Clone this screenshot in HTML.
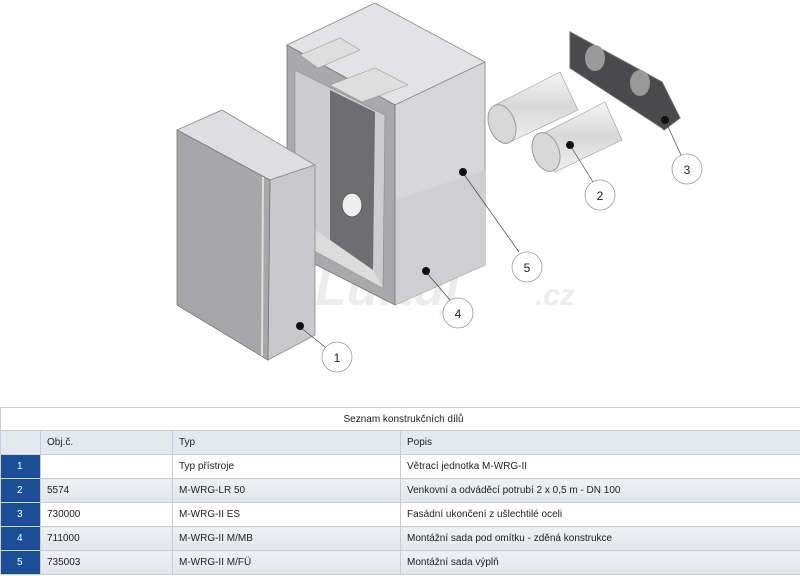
<!DOCTYPE html>
<html><head><meta charset="utf-8"><style>
body{margin:0;width:800px;height:576px;background:#fff;font-family:"Liberation Sans",sans-serif;overflow:hidden;position:relative}
svg{position:absolute;left:0;top:0}
table{position:absolute;left:0;top:407px;width:800px;border-collapse:collapse;table-layout:fixed;font-size:10px;color:#222;font-family:"Liberation Sans Narrow","Liberation Sans",sans-serif}
td{height:23px;border:1px solid #c8ccd4;padding:0 0 0 6px;overflow:hidden;white-space:nowrap}
tr.t td{text-align:center;height:22px;background:#fff}
tr.h td{background:#e4e8ef}
tr.g td{background:linear-gradient(#eef0f3,#e2e5ea)}
td.n{background:#1a4f96 !important;color:#fff;text-align:left;padding-left:16px}
</style></head><body>
<svg width="800" height="405" viewBox="0 0 800 405">
<defs><linearGradient id="p" x1="0" y1="0" x2="0" y2="1"><stop offset="0" stop-color="#f4f4f4"/><stop offset=".5" stop-color="#d8d8d8"/><stop offset="1" stop-color="#f0f0f0"/></linearGradient></defs>
<text x="315" y="305" font-size="52" font-style="italic" font-weight="bold" fill="#ececec">Luftuj</text>
<text x="535" y="305" font-size="30" font-style="italic" font-weight="bold" fill="#ececec">.cz</text>
<polygon points="287,45 375,3 485,62 395,105" fill="#e3e3e5" stroke="#888" stroke-width=".8"/>
<polygon points="395,105 485,62 485,265 395,305" fill="#d7d7d9" stroke="#888" stroke-width=".8"/>
<polygon points="440,185 485,170 485,265 395,305 395,200" fill="#cfcfd1"/>
<polygon points="287,45 395,105 395,305 287,250" fill="#a9a9ab" stroke="#777" stroke-width=".8"/>
<polygon points="295,70 385,115 383,288 295,240" fill="#cdcdcf" stroke="#888" stroke-width=".6"/>
<polygon points="330,90 375,112 373,270 330,245" fill="#6e6e70"/>
<polygon points="300,220 330,240 373,270 383,288 295,240" fill="#dcdcdc"/>
<ellipse cx="352" cy="205" rx="10" ry="12" fill="#eee" stroke="#555"/>
<polygon points="300,55 340,38 360,50 318,68" fill="#dedede" stroke="#999" stroke-width=".6"/>
<polygon points="330,85 375,68 408,85 362,102" fill="#dedede" stroke="#999" stroke-width=".6"/>
<polygon points="177,130 222,110 315,165 270,180" fill="#dedee0" stroke="#888" stroke-width=".8"/>
<polygon points="270,180 315,165 315,335 268,360" fill="#c9c9cb" stroke="#888" stroke-width=".8"/>
<polygon points="177,130 270,180 268,360 177,305" fill="#a7a7a9" stroke="#777" stroke-width=".8"/>
<line x1="263" y1="177" x2="262" y2="356" stroke="#ddd" stroke-width="2"/>
<polygon points="495,105 560,72 578,110 510,142" fill="url(#p)" stroke="#999" stroke-width=".6"/>
<ellipse cx="502" cy="124" rx="13" ry="20" fill="#d8d8d8" stroke="#999" transform="rotate(-20 502 124)"/>
<polygon points="540,135 605,102 622,140 555,172" fill="url(#p)" stroke="#999" stroke-width=".6"/>
<ellipse cx="546" cy="152" rx="13" ry="20" fill="#d8d8d8" stroke="#999" transform="rotate(-20 546 152)"/>
<polygon points="570,32 662,82 680,118 664,130 662,128 570,68" fill="#4a4a4c" stroke="#666"/>
<ellipse cx="595" cy="58" rx="10" ry="13" fill="#999"/>
<ellipse cx="640" cy="83" rx="10" ry="13" fill="#999"/>
<g stroke="#444" stroke-width=".7" fill="none">
<line x1="300" y1="327" x2="325" y2="347"/><line x1="570" y1="145" x2="593" y2="182"/>
<line x1="665" y1="120" x2="681" y2="155"/><line x1="426" y1="272" x2="450" y2="300"/>
<line x1="463" y1="173" x2="519" y2="252"/></g>
<g fill="#111"><circle cx="300" cy="326" r="4"/><circle cx="570" cy="145" r="4"/><circle cx="665" cy="120" r="4"/><circle cx="426" cy="271" r="4"/><circle cx="463" cy="172" r="4"/></g>
<g fill="#fff" stroke="#999" stroke-width=".8"><circle cx="337" cy="357" r="15"/><circle cx="600" cy="195" r="15"/><circle cx="687" cy="169" r="15"/><circle cx="458" cy="313" r="15"/><circle cx="527" cy="267" r="15"/></g>
<g font-size="12" text-anchor="middle" fill="#222"><text x="337" y="362">1</text><text x="600" y="200">2</text><text x="687" y="174">3</text><text x="458" y="318">4</text><text x="527" y="272">5</text></g>
</svg>
<table>
<colgroup><col style="width:40px"><col style="width:132px"><col style="width:228px"><col style="width:400px"></colgroup>
<tr class="t"><td colspan="4">Seznam konstrukčních dílů</td></tr>
<tr class="h"><td></td><td>Obj.č.</td><td>Typ</td><td>Popis</td></tr>
<tr><td class="n">1</td><td></td><td>Typ přístroje</td><td>Větrací jednotka M-WRG-II</td></tr>
<tr class="g"><td class="n">2</td><td>5574</td><td>M-WRG-LR 50</td><td>Venkovní a odváděcí potrubí 2 x 0,5 m - DN 100</td></tr>
<tr><td class="n">3</td><td>730000</td><td>M-WRG-II ES</td><td>Fasádní ukončení z ušlechtilé oceli</td></tr>
<tr class="g"><td class="n">4</td><td>711000</td><td>M-WRG-II M/MB</td><td>Montážní sada pod omítku - zděná konstrukce</td></tr>
<tr class="g"><td class="n">5</td><td>735003</td><td>M-WRG-II M/FÜ</td><td>Montážní sada výplň</td></tr>
</table>
</body></html>
